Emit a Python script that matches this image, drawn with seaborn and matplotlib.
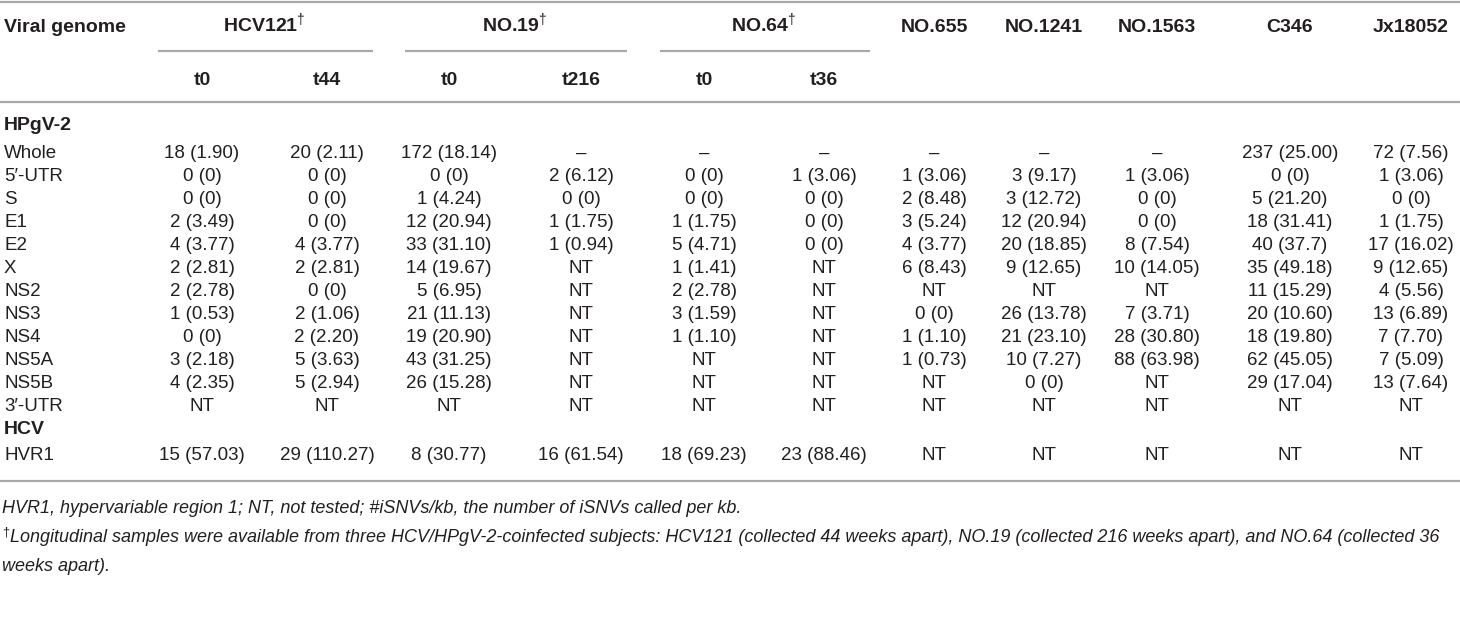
import matplotlib
matplotlib.use('Agg')
import matplotlib.pyplot as plt
import seaborn as sns

sns.set_theme(style='white')
plt.rcParams['font.family'] = ['Liberation Sans', 'DejaVu Sans']
plt.rcParams['mathtext.fontset'] = 'custom'
plt.rcParams['mathtext.rm'] = 'Liberation Sans'
plt.rcParams['mathtext.bf'] = 'Liberation Sans:bold'

# header texts
first_col = 'Viral genome'
groups = ['HCV121', 'NO.19', 'NO.64']
singles = ['NO.655', 'NO.1241', 'NO.1563', 'C346', 'Jx18052']
time_points = ['t0', 't44', 't0', 't216', 't0', 't36']

# row labels
hpgv_label = 'HPgV-2'
hpgv_regions = ['Whole', '5\u2032-UTR', 'S', 'E1', 'E2', 'X', 'NS2', 'NS3', 'NS4',
                'NS5A', 'NS5B', '3\u2032-UTR']
hcv_label = 'HCV'
hcv_regions = ['HVR1']

# cells: #iSNVs (#iSNVs/kb), one list per region, columns left to right
whole = ['18 (1.90)', '20 (2.11)', '172 (18.14)', '\u2013', '\u2013', '\u2013',
         '\u2013', '\u2013', '\u2013', '237 (25.00)', '72 (7.56)']
utr5 = ['0 (0)', '0 (0)', '0 (0)', '2 (6.12)', '0 (0)', '1 (3.06)',
        '1 (3.06)', '3 (9.17)', '1 (3.06)', '0 (0)', '1 (3.06)']
s = ['0 (0)', '0 (0)', '1 (4.24)', '0 (0)', '0 (0)', '0 (0)',
     '2 (8.48)', '3 (12.72)', '0 (0)', '5 (21.20)', '0 (0)']
e1 = ['2 (3.49)', '0 (0)', '12 (20.94)', '1 (1.75)', '1 (1.75)', '0 (0)',
      '3 (5.24)', '12 (20.94)', '0 (0)', '18 (31.41)', '1 (1.75)']
e2 = ['4 (3.77)', '4 (3.77)', '33 (31.10)', '1 (0.94)', '5 (4.71)', '0 (0)',
      '4 (3.77)', '20 (18.85)', '8 (7.54)', '40 (37.7)', '17 (16.02)']
x_reg = ['2 (2.81)', '2 (2.81)', '14 (19.67)', 'NT', '1 (1.41)', 'NT',
         '6 (8.43)', '9 (12.65)', '10 (14.05)', '35 (49.18)', '9 (12.65)']
ns2 = ['2 (2.78)', '0 (0)', '5 (6.95)', 'NT', '2 (2.78)', 'NT',
       'NT', 'NT', 'NT', '11 (15.29)', '4 (5.56)']
ns3 = ['1 (0.53)', '2 (1.06)', '21 (11.13)', 'NT', '3 (1.59)', 'NT',
       '0 (0)', '26 (13.78)', '7 (3.71)', '20 (10.60)', '13 (6.89)']
ns4 = ['0 (0)', '2 (2.20)', '19 (20.90)', 'NT', '1 (1.10)', 'NT',
       '1 (1.10)', '21 (23.10)', '28 (30.80)', '18 (19.80)', '7 (7.70)']
ns5a = ['3 (2.18)', '5 (3.63)', '43 (31.25)', 'NT', 'NT', 'NT',
        '1 (0.73)', '10 (7.27)', '88 (63.98)', '62 (45.05)', '7 (5.09)']
ns5b = ['4 (2.35)', '5 (2.94)', '26 (15.28)', 'NT', 'NT', 'NT',
        'NT', '0 (0)', 'NT', '29 (17.04)', '13 (7.64)']
utr3 = ['NT', 'NT', 'NT', 'NT', 'NT', 'NT', 'NT', 'NT', 'NT', 'NT', 'NT']
hvr1 = ['15 (57.03)', '29 (110.27)', '8 (30.77)', '16 (61.54)', '18 (69.23)',
        '23 (88.46)', 'NT', 'NT', 'NT', 'NT', 'NT']

hpgv_cells = [whole, utr5, s, e1, e2, x_reg, ns2, ns3, ns4, ns5a, ns5b, utr3]
hcv_cells = [hvr1]

note1 = 'HVR1, hypervariable region 1; NT, not tested; #iSNVs/kb, the number of iSNVs called per kb.'
note2 = ('Longitudinal samples were available from three HCV/HPgV-2-coinfected subjects: '
         'HCV121 (collected 44 weeks apart), NO.19 (collected 216 weeks apart), and NO.64 (collected 36')
note3 = 'weeks apart).'

# layout (pixels, y = baselines)
col_x = [202, 327, 449, 581, 704, 824, 934, 1044, 1157, 1290, 1411]
fs = 13.5
fs_head = 14
fs_note = 13
txt = '#231f20'
rule = '#a7a9ac'
base = dict(color=txt, va='baseline')

fig = plt.figure(figsize=(14.6, 6.17), dpi=100)
ax = fig.add_axes([0, 0, 1, 1])
ax.set_xlim(0, 1460)
ax.set_ylim(617, 0)
ax.axis('off')

# header
y_h1, y_h2 = 32, 85
ax.text(4, y_h1, first_col, fontsize=fs_head, fontweight='bold', **base)
for i, g in enumerate(groups):
    x0, x1 = col_x[2 * i], col_x[2 * i + 1]
    ax.text((x0 + x1) / 2, y_h1, g + r'$^{\dagger}$', fontsize=fs_head,
            fontweight='bold', ha='center', **base)
    ax.plot([x0 - 44, x1 + 46], [51, 51], color=rule, lw=1.6, solid_capstyle='butt')
for j, name in enumerate(singles):
    ax.text(col_x[6 + j], y_h1, name, fontsize=fs_head, fontweight='bold',
            ha='center', **base)
for j, tp in enumerate(time_points):
    ax.text(col_x[j], y_h2, tp, fontsize=fs_head, fontweight='bold',
            ha='center', **base)

for y in [1.5, 102]:
    ax.plot([0, 1460], [y, y], color=rule, lw=1.6, solid_capstyle='butt')

# body
y0, step = 130, 23
ax.text(4, y0, hpgv_label, fontsize=fs_head, fontweight='bold', **base)
y = y0 + 28
for label, cells in zip(hpgv_regions, hpgv_cells):
    ax.text(4, y, label, fontsize=fs, **base)
    for cx, c in zip(col_x, cells):
        ax.text(cx, y, c, fontsize=fs, ha='center', **base)
    y += step
ax.text(4, y, hcv_label, fontsize=fs_head, fontweight='bold', **base)
y += step + 3
for label, cells in zip(hcv_regions, hcv_cells):
    ax.text(4, y, label, fontsize=fs, **base)
    for cx, c in zip(col_x, cells):
        ax.text(cx, y, c, fontsize=fs, ha='center', **base)
    y += step

ax.plot([0, 1460], [481, 481], color=rule, lw=1.6, solid_capstyle='butt')

# footnotes
ax.text(2, 513, note1, fontsize=fs_note, style='italic', **base)
ax.text(2, 542, r'$^{\dagger}$', fontsize=fs_note, **base)
ax.text(10, 542, note2, fontsize=fs_note, style='italic', **base)
ax.text(2, 571, note3, fontsize=fs_note, style='italic', **base)

fig.savefig('out.png', dpi=100)
